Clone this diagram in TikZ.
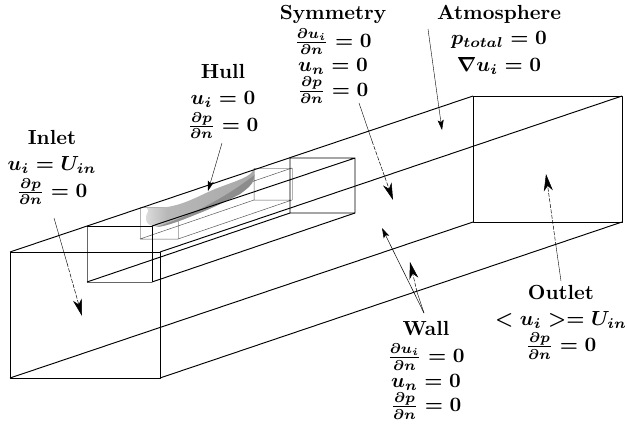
\documentclass[tikz,border=0pt]{standalone}
\usepackage{amsmath}
\usetikzlibrary{arrows.meta}
\pgfdeclarehorizontalshading{hullshade}{100bp}{color(0bp)=(black!30); color(6bp)=(black!8); color(14bp)=(white); color(24bp)=(black!12); color(35bp)=(black!28); color(75bp)=(black!34); color(100bp)=(black!42)}
\tikzset{
 lab/.style={scale=2.04,align=center,inner sep=0pt,font=\bfseries\boldmath},
 edge/.style={black,line width=0.95pt,line join=round},
 gedge/.style={black!60,line width=0.95pt},
 thin edge/.style={black!65,line width=0.5pt},
 pale edge/.style={black!30,line width=0.9pt},
 arrowbig/.style={black,line width=0.5pt,-{Stealth[length=17pt,width=9pt,inset=5pt]}},
 arrowsmall/.style={black,line width=0.4pt,-{Stealth[length=10pt,width=6pt,inset=2pt]}},
 dashpart/.style={dash pattern=on 4pt off 1.5pt},
}
\begin{document}
\begin{tikzpicture}[x=1pt,y=-1pt]
\useasboundingbox (0,0) rectangle (627,424);
% big box
\coordinate (Fa) at (10,252); \coordinate (Fb) at (160,252);
\coordinate (Fc) at (160,378); \coordinate (Fd) at (10,378);
\coordinate (Ba) at (473,96); \coordinate (Bb) at (622,96);
\coordinate (Bc) at (622,222); \coordinate (Bd) at (473,222);
% medium box
\coordinate (Ma) at (87,226); \coordinate (Mb) at (152,226);
\coordinate (Mc) at (152,282); \coordinate (Md) at (87,282);
\coordinate (Na) at (290,158); \coordinate (Nb) at (355,158);
\coordinate (Nc) at (355,213); \coordinate (Nd) at (290,213);
% small box
\coordinate (Sa) at (140,207); \coordinate (Sb) at (178,207);
\coordinate (Sc) at (178,239); \coordinate (Sd) at (140,239);
\coordinate (Ta) at (254,168); \coordinate (Tb) at (292,168);
\coordinate (Tc) at (292,200); \coordinate (Td) at (254,200);
% small box (behind hull)
\draw[pale edge] (Sd) -- (Sa) -- (Sb) -- (Sc);
\draw[pale edge] (Ta) -- (Tb) -- (Tc);
\draw[thin edge] (Sd) -- (Sc) (Td) -- (Tc) (Sd) -- (Td) (Sc) -- (Tc) (Sb) -- (Tb) (Ta) -- (Td);
% hull
\shade[shading=hullshade]
 (147,208) .. controls (158,209) and (170,207) .. (180,204)
 .. controls (195,199) and (205,193) .. (215,189)
 .. controls (230,183) and (248,178) .. (252,172) -- (254,169) -- (254.5,179)
 .. controls (252,186) and (245,190) .. (240,194)
 .. controls (225,202) and (210,209) .. (197,214)
 .. controls (185,219) and (172,224) .. (163,226)
 .. controls (153,228) and (145,225) .. (146,217)
 .. controls (146,213) and (150,212) .. (147,208) -- cycle;
\fill[black!50,opacity=.7]
 (156,227) .. controls (190,216) and (225,198) .. (254.5,175)
 .. controls (253,186) and (245,190) .. (240,194)
 .. controls (225,202) and (210,209) .. (197,214)
 .. controls (185,219) and (172,224) .. (163,226)
 .. controls (160,227) and (158,227) .. (156,227) -- cycle;
% medium box
\draw[gedge] (Md) -- (Ma) (Md) -- (Mc);
\draw[edge] (Ma) -- (Mb) -- (Mc);
\draw[edge] (Mb) -- (Nb) -- (Nc) -- (Nd) -- (Na) -- (Nb);
\draw[edge] (Mc) -- (Nc) (Md) -- (Nd);
% big box
\draw[edge] (Fa) -- (Fb) -- (Fc) -- (Fd) -- cycle;
\draw[edge] (Ba) -- (Bb) -- (Bc) -- (Bd) -- cycle;
\draw[edge] (Fa) -- (Ba) (Fb) -- (Bb) (Fc) -- (Bc) (Fd) -- (Bd);
% labels
\node[lab] (inlet) at (52,167.5) {Inlet\\[1pt]$u_i=U_{in}$\\[1pt]$\frac{\partial p}{\partial n}=0$};
\node[lab] (hull) at (223,101.5) {Hull\\[1pt]$u_i=0$\\[1pt]$\frac{\partial p}{\partial n}=0$};
\node[lab] (sym) at (333,54.5) {Symmetry\\[1.5pt]$\frac{\partial u_i}{\partial n}=0$\\[0pt]$u_n=0$\\[0pt]$\frac{\partial p}{\partial n}=0$};
\node[lab] (atm) at (499,39.5) {Atmosphere\\[0.5pt]$p_{total}=0$\\[1pt]$\nabla u_i=0$};
\node[lab] (outlet) at (561,322.5) {Outlet\\[0.5pt]$<u_i>=U_{in}$\\[1pt]$\frac{\partial p}{\partial n}=0$};
\node[lab] (wall) at (426,370) {Wall\\[1.5pt]$\frac{\partial u_i}{\partial n}=0$\\[0pt]$u_n=0$\\[0pt]$\frac{\partial p}{\partial n}=0$};
% arrows
\coordinate (hullS) at (222,143); \coordinate (hullE) at (208,191);
\coordinate (inS) at (54,218); \coordinate (inM) at (67,263); \coordinate (inE) at (82,316);
\coordinate (symS) at (359,103); \coordinate (symM) at (372,141); \coordinate (symE) at (393,200);
\coordinate (atmS) at (428,29); \coordinate (atmE) at (442,130);
\coordinate (outS) at (561,281); \coordinate (outM) at (556,246); \coordinate (outE) at (546,174);
\coordinate (wallS) at (424,313); \coordinate (wallA) at (382,228); \coordinate (wallB) at (410,262); \coordinate (wallM) at (417,292);
\draw[arrowsmall] (hullS) -- (hullE);
\draw[arrowsmall] (atmS) -- (atmE);
\draw[black,line width=.4pt] (inS) -- (inM);
\draw[arrowbig,dashpart] (inM) -- (inE);
\draw[black,line width=.4pt] (symS) -- (symM);
\draw[arrowbig,dashpart] (symM) -- (symE);
\draw[black,line width=.4pt] (outS) -- (outM);
\draw[arrowbig,dashpart] (outM) -- (outE);
\draw[arrowsmall,line width=.5pt] (wallS) -- (wallA);
\draw[black,line width=.4pt] (wallS) -- (wallM);
\draw[arrowbig,dashpart] (wallM) -- (wallB);
\end{tikzpicture}
\end{document}
